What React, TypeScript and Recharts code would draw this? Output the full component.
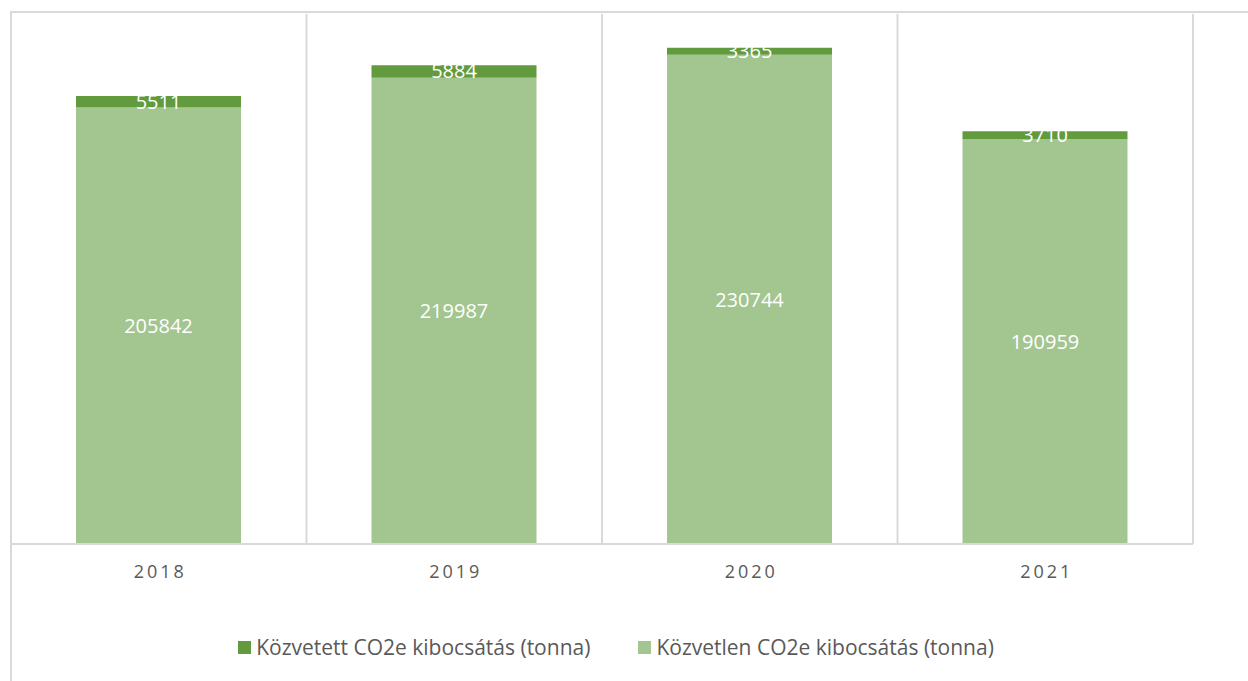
import { BarChart, Bar, XAxis, YAxis, CartesianGrid, Legend, LabelList } from 'recharts';

const years = ['2018', '2019', '2020', '2021'];
const direct = [205842, 219987, 230744, 190959];
const indirect = [5511, 5884, 3365, 3710];

const DARK = '#629B3E';
const LIGHT = '#A3C590';
const GRID = '#D9D9D9';
const FONT = '"Open Sans", sans-serif';

const data = years.map((year, i) => ({ year, direct: direct[i], indirect: indirect[i] }));

const legendItems = [
  { label: 'Közvetett CO2e kibocsátás (tonna)', color: DARK },
  { label: 'Közvetlen CO2e kibocsátás (tonna)', color: LIGHT },
];

function YearTick(props: any) {
  const { x, y, payload } = props;
  return (
    <text x={x + 1.5} y={y} dy="0.71em" textAnchor="middle" fill="#595959" fontSize={18} letterSpacing={3} fontFamily={FONT}>
      {payload.value}
    </text>
  );
}

function LegendBox() {
  return (
    <div style={{ display: 'flex', justifyContent: 'center', fontFamily: FONT, fontSize: 21, color: '#595959', paddingRight: 16 }}>
      {legendItems.map((item, i) => (
        <div key={item.label} style={{ display: 'flex', alignItems: 'center', marginRight: i === 0 ? 48 : 0 }}>
          <span style={{ display: 'inline-block', width: 13, height: 13, background: item.color, marginRight: 5 }} />
          <span>{item.label}</span>
        </div>
      ))}
    </div>
  );
}

export default function App() {
  return (
    <div style={{ position: 'absolute', left: 0, top: 0, width: 1248, height: 681, background: '#fff', overflow: 'hidden' }}>
      <div
        style={{
          position: 'absolute',
          left: 10,
          top: 11,
          width: 1400,
          height: 800,
          borderTop: `2px solid ${GRID}`,
          borderLeft: `2px solid ${GRID}`,
        }}
      />
      <BarChart
        width={1248}
        height={681}
        data={data}
        margin={{ top: 14, right: 55, left: 11, bottom: 67 }}
        barSize={165}
        style={{ position: 'absolute', left: 0, top: 0 }}
      >
        <CartesianGrid
          horizontal={false}
          stroke={GRID}
          strokeWidth={2}
          verticalCoordinatesGenerator={({ offset }: any) =>
            Array.from({ length: years.length + 1 }, (_, i) => offset.left + (offset.width * i) / years.length)
          }
        />
        <XAxis
          dataKey="year"
          height={30}
          tickLine={false}
          axisLine={{ stroke: GRID, strokeWidth: 2 }}
          tickMargin={15}
          tick={<YearTick />}
        />
        <YAxis hide domain={[0, 250000]} />
        <Bar dataKey="direct" stackId="a" fill={LIGHT} isAnimationActive={false}>
          <LabelList dataKey="direct" position="center" fill="#fff" fontSize={20} fontFamily={FONT} />
        </Bar>
        <Bar dataKey="indirect" stackId="a" fill={DARK} isAnimationActive={false}>
          <LabelList dataKey="indirect" position="center" fill="#fff" fontSize={20} fontFamily={FONT} />
        </Bar>
        <Legend
          verticalAlign="bottom"
          height={40}
          content={<LegendBox />}
          wrapperStyle={{ top: 633, bottom: undefined, left: 0, width: 1248 }}
        />
      </BarChart>
    </div>
  );
}
